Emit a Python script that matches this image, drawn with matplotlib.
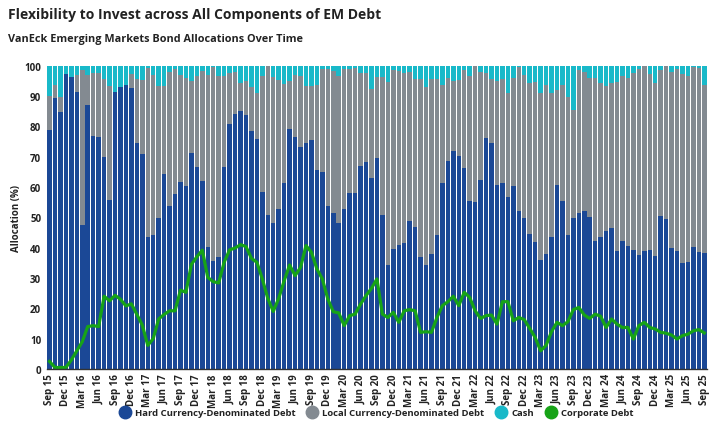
import matplotlib
matplotlib.use('Agg')
import matplotlib.pyplot as plt
from matplotlib.lines import Line2D
import numpy as np

# colours
HC_COLOR = '#1b4896'
LC_COLOR = '#838a91'
CASH_COLOR = '#19b9c9'
CORP_COLOR = '#17a317'
TEXT_COLOR = '#222222'

# monthly allocations (%), Sep 15 .. Sep 25
hard = [78.9, 89.3, 84.6, 97.4, 96.3, 91.2, 47.6, 87.1, 77.0, 76.6,
        70.0, 55.8, 91.5, 93.1, 93.7, 92.7, 74.7, 70.8, 43.7, 44.3,
        49.7, 64.2, 53.8, 57.8, 61.8, 60.4, 71.1, 66.6, 62.1, 40.1,
        35.7, 37.1, 66.7, 80.8, 84.1, 85.2, 83.7, 78.4, 76.0, 58.5,
        50.8, 48.0, 52.7, 61.5, 79.3, 76.6, 73.1, 74.7, 75.5, 65.8,
        65.1, 53.8, 51.3, 48.0, 52.7, 57.9, 57.9, 67.0, 68.4, 63.0,
        69.5, 50.9, 34.4, 39.6, 40.9, 41.5, 48.7, 46.7, 36.8, 34.4,
        37.9, 44.2, 61.5, 68.7, 72.0, 70.3, 66.2, 55.5, 55.2, 62.4,
        76.2, 74.7, 60.8, 61.2, 56.8, 60.4, 52.2, 49.7, 44.5, 41.8,
        36.0, 37.9, 43.6, 60.8, 55.5, 44.3, 49.7, 51.4, 52.2, 50.2,
        42.3, 43.7, 45.6, 46.6, 39.0, 42.3, 40.7, 39.3, 37.7, 39.0,
        39.3, 37.4, 50.3, 49.5, 39.9, 38.8, 34.9, 35.2, 40.1, 38.7,
        38.2]

local = [11.3, 4.5, 5.1, 0.0, 0.0, 5.8, 51.0, 10.0, 20.5, 20.9,
         25.5, 37.5, 0.0, 0.0, 0.0, 4.7, 21.1, 24.4, 55.6, 52.8,
         43.5, 29.0, 44.1, 41.0, 35.3, 35.6, 23.8, 30.0, 36.1, 57.0,
         63.9, 59.7, 30.1, 16.9, 13.9, 9.1, 11.2, 14.6, 15.1, 38.1,
         49.1, 48.4, 42.5, 32.6, 15.6, 20.5, 23.7, 18.8, 17.8, 27.8,
         33.7, 45.0, 46.9, 48.6, 46.4, 41.2, 41.4, 30.5, 29.1, 29.2,
         26.9, 45.5, 60.2, 59.0, 57.3, 56.0, 49.2, 48.8, 58.7, 58.6,
         57.8, 51.5, 32.3, 27.3, 22.9, 24.9, 32.3, 41.1, 44.7, 35.6,
         21.5, 21.1, 34.1, 34.6, 34.1, 35.6, 47.5, 47.2, 49.9, 52.9,
         54.9, 55.7, 47.5, 31.1, 38.3, 45.4, 35.7, 47.1, 45.8, 45.8,
         53.7, 50.5, 47.9, 47.6, 55.7, 54.5, 55.3, 58.4, 61.1, 60.9,
         58.1, 57.0, 48.2, 50.4, 58.1, 60.3, 62.5, 61.4, 59.6, 60.6,
         55.6]

cash = [9.8, 6.2, 10.3, 2.6, 3.7, 3.0, 1.4, 2.9, 2.5, 2.5,
        4.5, 6.7, 8.5, 6.9, 6.3, 2.6, 4.2, 4.8, 0.7, 2.9,
        6.8, 6.8, 2.1, 1.2, 2.9, 4.0, 5.1, 3.4, 1.8, 2.9,
        0.4, 3.2, 3.2, 2.3, 2.0, 5.7, 5.1, 7.0, 8.9, 3.4,
        0.1, 3.6, 4.8, 5.9, 5.1, 2.9, 3.2, 6.5, 6.7, 6.4,
        1.2, 1.2, 1.8, 3.4, 0.9, 0.9, 0.7, 2.5, 2.5, 7.8,
        3.6, 3.6, 5.4, 1.4, 1.8, 2.5, 2.1, 4.5, 4.5, 7.0,
        4.3, 4.3, 6.2, 4.0, 5.1, 4.8, 1.5, 3.4, 0.1, 2.0,
        2.3, 4.2, 5.1, 4.2, 9.1, 4.0, 0.3, 3.1, 5.6, 5.3,
        9.1, 6.4, 8.9, 8.1, 6.2, 10.3, 14.6, 1.5, 2.0, 4.0,
        4.0, 5.8, 6.5, 5.8, 5.3, 3.2, 4.0, 2.3, 1.2, 0.1,
        2.6, 5.6, 1.5, 0.1, 2.0, 0.9, 2.6, 3.4, 0.3, 0.7,
        6.2]

corporate = [2.5, 0.5, 0.5, 0.5, 3.0, 6.0, 9.0, 14.0, 14.3, 14.0,
             24.0, 22.5, 24.3, 23.0, 20.8, 21.5, 18.0, 14.5, 7.8, 10.0,
             16.5, 18.0, 19.2, 19.2, 26.0, 25.3, 34.5, 37.0, 39.2, 30.2,
             28.8, 28.4, 35.2, 39.3, 39.9, 41.0, 40.4, 36.5, 35.2, 29.7,
             23.3, 19.0, 23.3, 29.1, 34.3, 30.8, 33.5, 40.7, 38.5, 33.0,
             29.7, 23.1, 18.9, 18.5, 14.3, 17.6, 18.1, 21.4, 24.2, 26.6,
             29.7, 18.1, 17.0, 18.7, 15.4, 19.2, 19.6, 19.2, 12.1, 12.3,
             12.1, 17.0, 20.9, 22.2, 24.0, 20.9, 25.3, 23.6, 19.2, 16.7,
             17.6, 17.8, 14.8, 22.2, 22.2, 15.9, 17.0, 16.3, 13.4, 10.4,
             6.0, 7.8, 12.3, 15.4, 14.3, 15.6, 19.6, 20.3, 17.8, 16.7,
             18.1, 17.4, 13.7, 16.5, 14.8, 13.7, 13.7, 9.9, 14.3, 15.4,
             13.7, 13.2, 12.1, 11.8, 11.2, 9.9, 11.0, 11.5, 12.6, 13.0,
             11.9]

tick_labels = ['Sep 15', 'Dec 15', 'Mar 16', 'Jun 16', 'Sep 16', 'Dec 16', 'Mar 17',
               'Jun 17', 'Sep 17', 'Dec 17', 'Mar 18', 'Jun 18', 'Sep 18', 'Dec 18',
               'Mar 19', 'Jun 19', 'Sep 19', 'Dec 19', 'Mar 20', 'Jun 20', 'Sep 20',
               'Dec 20', 'Mar 21', 'Jun 21', 'Sep 21', 'Dec 21', 'Mar 22', 'Jun 22',
               'Sep 22', 'Dec 22', 'Mar 23', 'Jun 23', 'Sep 23', 'Dec 23', 'Mar 24',
               'Jun 24', 'Sep 24', 'Dec 24', 'Mar 25', 'Jun 25', 'Sep 25']


def main():
    plt.rcParams['font.family'] = ['Open Sans', 'DejaVu Sans']
    plt.rcParams['font.weight'] = 'bold'

    x = np.arange(len(hard))
    hc = np.array(hard)
    lc = np.array(local)

    fig = plt.figure(figsize=(7.2, 4.31), dpi=100)
    ax = fig.add_axes([0.065, 0.1415, 0.917, 0.7035])

    w = 0.82
    ax.bar(x, hc, width=w, color=HC_COLOR, linewidth=0)
    ax.bar(x, lc, width=w, bottom=hc, color=LC_COLOR, linewidth=0)
    ax.bar(x, cash, width=w, bottom=hc + lc, color=CASH_COLOR, linewidth=0)
    ax.plot(x, corporate, color=CORP_COLOR, linewidth=2.3, solid_joinstyle='round')

    ax.set_xlim(-0.5, len(hard) - 0.5)
    ax.set_ylim(0, 100)
    ax.set_yticks(range(0, 101, 10))
    ax.set_xticks(x[::3])
    ax.set_xticklabels(tick_labels, rotation=90)
    ax.tick_params(axis='both', length=0, labelsize=7, colors=TEXT_COLOR, pad=3)
    ax.tick_params(axis='y', pad=4)
    for s in ['top', 'right', 'left']:
        ax.spines[s].set_visible(False)
    ax.spines['bottom'].set_color('#333333')
    ax.spines['bottom'].set_linewidth(1.0)
    ax.set_ylabel('Allocation (%)', fontsize=7, fontweight='bold',
                  color=TEXT_COLOR, labelpad=2)

    fig.text(0.011, 0.965, 'Flexibility to Invest across All Components of EM Debt',
             fontsize=10, fontweight='bold', color=TEXT_COLOR, va='center')
    fig.text(0.011, 0.908, 'VanEck Emerging Markets Bond Allocations Over Time',
             fontsize=7.8, fontweight='bold', color=TEXT_COLOR, va='center')

    names = ['Hard Currency-Denominated Debt', 'Local Currency-Denominated Debt',
             'Cash', 'Corporate Debt']
    colors = [HC_COLOR, LC_COLOR, CASH_COLOR, CORP_COLOR]
    handles = [Line2D([], [], linestyle='none', marker='o', markersize=9,
                      markerfacecolor=c, markeredgecolor=c) for c in colors]
    fig.legend(handles, names, loc='center', bbox_to_anchor=(0.52, 0.04), ncol=4,
               frameon=False, fontsize=6.8, handletextpad=0.05, columnspacing=0.8,
               labelcolor=TEXT_COLOR)

    fig.savefig('out.png', dpi=100)


if __name__ == '__main__':
    main()
